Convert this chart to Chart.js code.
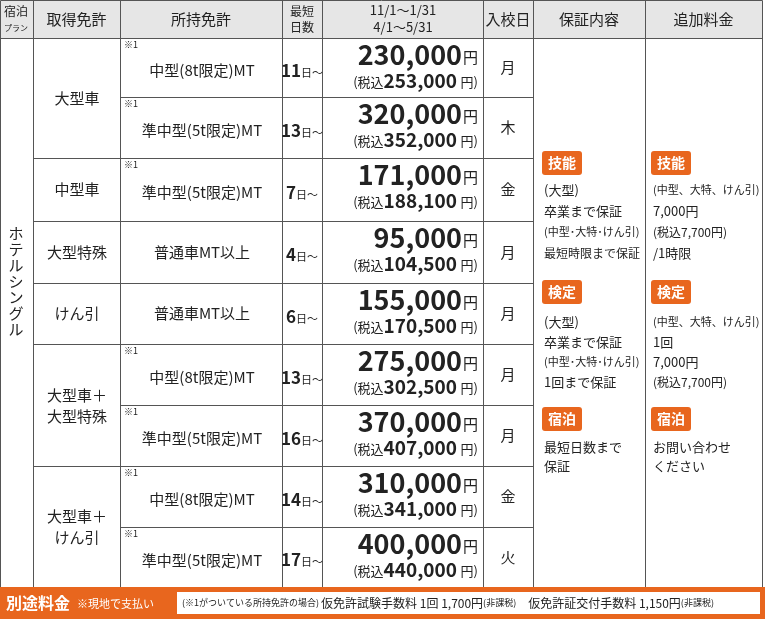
<!DOCTYPE html>
<html><head><meta charset="utf-8">
<script src="https://cdn.jsdelivr.net/npm/chart.js@4"></script>
<style>html,body{margin:0;padding:0;background:#fff}#wrap{width:765px;height:619px}</style>
</head><body><div id="wrap"><canvas id="c"></canvas></div>
<script>
// table data
const headers = ['取得免許', '所持免許', '', '', '入校日', '保証内容', '追加料金'];
const acquireGroups = [['大型車'], ['中型車'], ['大型特殊'], ['けん引'], ['大型車＋', '大型特殊'], ['大型車＋', 'けん引']];
const groupSpans = [2, 1, 1, 1, 2, 2];
const heldLicences = ['中型(8t限定)MT', '準中型(5t限定)MT', '準中型(5t限定)MT', '普通車MT以上', '普通車MT以上', '中型(8t限定)MT', '準中型(5t限定)MT', '中型(8t限定)MT', '準中型(5t限定)MT'];
const markNote = [true, true, true, false, false, true, true, true, true];
const minDays = [11, 13, 7, 4, 6, 13, 16, 14, 17];
const prices = ['230,000', '320,000', '171,000', '95,000', '155,000', '275,000', '370,000', '310,000', '400,000'];
const taxPrices = ['253,000', '352,000', '188,100', '104,500', '170,500', '302,500', '407,000', '341,000', '440,000'];
const startDays = ['月', '木', '金', '月', '月', '月', '月', '金', '火'];
const guarantee = [
  ['技能', ['(大型)', '卒業まで保証', '(中型･大特･けん引)', '最短時限まで保証']],
  ['検定', ['(大型)', '卒業まで保証', '(中型･大特･けん引)', '1回まで保証']],
  ['宿泊', ['最短日数まで', '保証']]
];
const extraFee = [
  ['技能', ['(中型、大特、けん引)', '7,000円', '(税込7,700円)', '/1時限']],
  ['検定', ['(中型、大特、けん引)', '1回', '7,000円', '(税込7,700円)']],
  ['宿泊', ['お問い合わせ', 'ください']]
];

const colX = [0, 33, 120, 282, 322, 483, 533, 645, 762];
const rowY = [38, 97, 158, 221, 283, 344, 405, 466, 527, 587];
const F = '"Noto Sans CJK JP", "Noto Sans", sans-serif';
const ORANGE = '#e8661e';

const tablePlugin = {
  id: 'table',
  afterDraw(chart) {
    const { ctx } = chart;
    const sx = chart.scales.x, sy = chart.scales.y;
    const X = v => sx.getPixelForValue(v), Y = v => sy.getPixelForValue(v);
    ctx.save();
    ctx.fillStyle = '#e6e6e6';
    ctx.fillRect(X(0), Y(0), X(762) - X(0), Y(38) - Y(0));
    ctx.fillStyle = '#222';
    ctx.textBaseline = 'middle';
    const txt = (s, x, y, size, align, bold) => {
      ctx.font = (bold ? 'bold ' : '') + size + 'px ' + F;
      ctx.textAlign = align || 'center';
      ctx.fillText(s, X(x), Y(y));
    };
    // header
    txt('宿泊', 16, 11, 12); txt('プラン', 16, 28, 8);
    headers.forEach((h, i) => { if (h) txt(h, (colX[i + 1] + colX[i + 2]) / 2, 19, 15); });
    txt('最短', 302, 11, 12); txt('日数', 302, 27, 12);
    txt('11/1～1/31', 403, 10, 13); txt('4/1～5/31', 403, 27, 13);
    // grid lines
    ctx.strokeStyle = '#555'; ctx.lineWidth = 1;
    const line = (x1, y1, x2, y2) => { ctx.beginPath(); ctx.moveTo(X(x1) + .5, Y(y1) + .5); ctx.lineTo(X(x2) + .5, Y(y2) + .5); ctx.stroke(); };
    colX.forEach(x => line(x, 0, x, 587));
    line(0, 0, 762, 0); line(0, 38, 762, 38);
    rowY.forEach((y, i) => {
      if (i === 0 || i === rowY.length - 1) { line(0, y, 762, y); return; }
      line(colX[2], y, colX[6], y);
    });
    let r = 0;
    acquireGroups.forEach((g, gi) => {
      const top = rowY[r], bot = rowY[r + groupSpans[gi]];
      line(colX[1], bot, colX[2], bot);
      ctx.fillStyle = '#222';
      const cy = (top + bot) / 2;
      if (g.length === 1) txt(g[0], 77, cy, 15);
      else { txt(g[0], 77, cy - 10, 15); txt(g[1], 77, cy + 11, 15); }
      r += groupSpans[gi];
    });
    // plan vertical text
    ctx.fillStyle = '#222';
    [...'ホテルシングル'].forEach((c, i) => txt(c, 16, 233 + i * 16, 15));
    // rows
    heldLicences.forEach((h, i) => {
      const top = rowY[i], bot = rowY[i + 1], cy = (top + bot) / 2;
      if (markNote[i]) txt('※1', 124, top + 7, 9, 'left');
      txt(h, 202, markNote[i] ? cy + 3 : cy, 15);
      ctx.font = 'bold 17px ' + F;
      const dw = ctx.measureText(String(minDays[i])).width;
      ctx.font = '11px ' + F;
      const uw = ctx.measureText('日～').width;
      const dx = 302 - (dw + uw) / 2;
      txt(String(minDays[i]), dx, cy + 3, 17, 'left', true);
      txt('日～', dx + dw, cy + 5, 11, 'left');
      // price
      txt('円', 478, top + 19, 15, 'right');
      txt(prices[i], 462, top + 17, 27, 'right', true);
      txt('円)', 478, top + 44, 13, 'right');
      txt(taxPrices[i], 457, top + 43, 19, 'right', true);
      ctx.font = 'bold 19px ' + F;
      const tw = ctx.measureText(taxPrices[i]).width;
      txt('(税込', 457 - tw, top + 44, 13, 'right');
      txt(startDays[i], 508, cy, 15);
    });
    // badges
    const badgeY = [163, 292, 419];
    const lineYs = [[190, 211, 232, 253], [322, 342, 362, 382], [447, 466]];
    const col = (data, x0) => data.forEach((d, k) => {
      ctx.fillStyle = ORANGE;
      ctx.beginPath(); ctx.roundRect(X(x0), Y(badgeY[k] - 12), 40, 24, 3); ctx.fill();
      ctx.fillStyle = '#fff'; txt(d[0], x0 + 20, badgeY[k], 14, 'center', true);
      ctx.fillStyle = '#222';
      d[1].forEach((s, j) => txt(s, x0 + 2, lineYs[k][j], s.startsWith('(中型') ? 11 : (s.length > 7 ? 12 : 13), 'left'));
    });
    col(guarantee, 542); col(extraFee, 651);
    // bottom bar
    ctx.fillStyle = ORANGE;
    ctx.fillRect(X(0), Y(587), X(765) - X(0), Y(619) - Y(587));
    ctx.fillStyle = '#fff';
    ctx.fillRect(X(177), Y(592), X(760) - X(177), Y(614) - Y(592));
    txt('別途料金', 6, 603, 16, 'left', true);
    txt('※現地で支払い', 77, 604, 11, 'left');
    ctx.fillStyle = '#222';
    let x = 182;
    [['(※1がついている所持免許の場合) ', 9], ['仮免許試験手数料 1回 ', 12], ['1,700円', 12], ['(非課税)', 9], ['　仮免許証交付手数料 ', 12], ['1,150円', 12], ['(非課税)', 9]].forEach(([s, sz]) => {
      txt(s, x, 603, sz, 'left');
      ctx.font = sz + 'px ' + F;
      x += ctx.measureText(s).width / (X(1) - X(0));
    });
    ctx.restore();
  }
};

new Chart(document.getElementById('c'), {
  type: 'scatter',
  data: { datasets: [{ data: [] }] },
  options: {
    responsive: true, maintainAspectRatio: false, animation: false,
    layout: { padding: 0 },
    plugins: { legend: { display: false }, tooltip: { enabled: false } },
    scales: {
      x: { type: 'linear', min: 0, max: 765, display: false },
      y: { type: 'linear', min: 0, max: 619, reverse: true, display: false }
    }
  },
  plugins: [tablePlugin]
});
</script></body></html>
